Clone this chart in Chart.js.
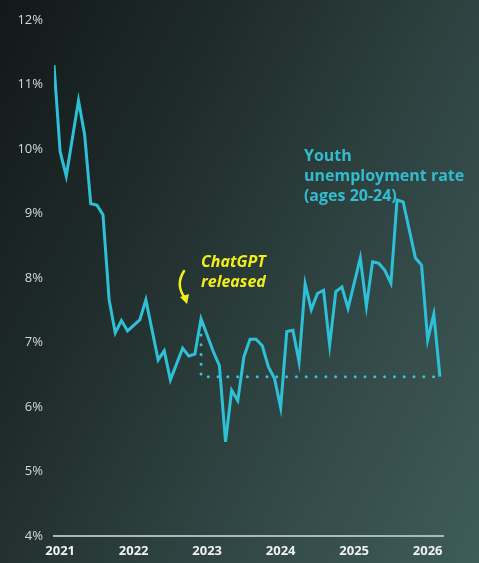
<!DOCTYPE html>
<html>
<head>
<meta charset="utf-8">
<script src="https://cdn.jsdelivr.net/npm/chart.js@4"></script>
<style>
  html, body {
    margin: 0;
    padding: 0;
    width: 479px;
    height: 563px;
    overflow: hidden;
    background: linear-gradient(118deg, #121918 0%, #1f2c2b 32%, #2f4442 62%, #3f5c5a 100%);
  }
  #wrap { width: 479px; height: 563px; }
</style>
</head>
<body>
<div id="wrap"><canvas id="youthChart"></canvas></div>
<script>
// month index (0 = Dec 2020) and youth (20-24) unemployment rate, %
const months = [0, 1, 2, 4, 5, 6, 7, 8, 9, 10, 11, 12, 14, 15, 17, 18, 19, 21, 22, 23,
    24, 26, 27, 28, 29, 30, 31, 32, 33, 34, 35, 36, 37, 38, 39, 40, 41, 42, 43, 44,
    45, 46, 47, 48, 50, 51, 52, 53, 54, 55, 56, 57, 59, 60, 61, 62, 63];
const rates = [11.30, 9.96, 9.58, 10.75, 10.22, 9.15, 9.13, 8.98, 7.66, 7.15, 7.34, 7.18, 7.35, 7.66, 6.73, 6.87, 6.42, 6.91, 6.79, 6.82,
    7.37, 6.86, 6.64, 5.46, 6.26, 6.10, 6.78, 7.05, 7.05, 6.95, 6.62, 6.44, 5.99, 7.17, 7.19, 6.70, 7.91, 7.51, 7.76, 7.81,
    6.96, 7.79, 7.86, 7.53, 8.31, 7.56, 8.25, 8.23, 8.12, 7.92, 9.21, 9.18, 8.31, 8.20, 7.04, 7.44, 6.47];

const yearTicks = [1, 13, 25, 37, 49, 61];
const yearLabels = ['2021', '2022', '2023', '2024', '2025', '2026'];
const yMin = 4;
const yMax = 12;

const releaseMonth = 24; // ChatGPT released
const lineColor = '#2ec0d6';

const series = months.map((m, i) => ({ x: m, y: rates[i] }));
const releaseRate = rates[months.indexOf(releaseMonth)];
const lastMonth = months[months.length - 1];
const lastRate = rates[rates.length - 1];

// dotted guide: down from the release month, then across to the latest reading
const guide = [
    { x: releaseMonth, y: releaseRate - 0.1 },
    { x: releaseMonth, y: lastRate },
    { x: lastMonth, y: lastRate },
];

const labelsPlugin = {
    id: 'labels',
    afterDatasetsDraw(chart) {
        const { ctx, scales: { x, y } } = chart;
        ctx.save();

        // series label
        ctx.fillStyle = '#33bccf';
        ctx.font = 'bold 16px "Open Sans"';
        ctx.textBaseline = 'alphabetic';
        ctx.textAlign = 'left';
        const sx = x.getPixelForValue(40.8);
        const sy = y.getPixelForValue(9.81);
        ['Youth', 'unemployment rate', '(ages 20-24)'].forEach((t, i) => {
            ctx.fillText(t, sx, sy + i * 20);
        });

        // release note
        ctx.fillStyle = '#f2ee1c';
        ctx.font = 'italic bold 16px "Open Sans"';
        const cx = x.getPixelForValue(releaseMonth);
        const cy = y.getPixelForValue(8.17);
        ctx.fillText('ChatGPT', cx, cy);
        ctx.fillText('released', cx, cy + 20);

        // curved arrow
        ctx.strokeStyle = '#f2ee1c';
        ctx.lineWidth = 2.5;
        ctx.lineCap = 'round';
        ctx.beginPath();
        ctx.moveTo(cx - 17, cy + 4);
        ctx.quadraticCurveTo(cx - 26, cy + 18, cx - 16, cy + 31);
        ctx.stroke();
        ctx.fillStyle = '#f2ee1c';
        ctx.beginPath();
        ctx.moveTo(cx - 21, cy + 30);
        ctx.lineTo(cx - 12, cy + 27);
        ctx.lineTo(cx - 14, cy + 37);
        ctx.closePath();
        ctx.fill();

        ctx.restore();
    }
};

const ctx = document.getElementById('youthChart').getContext('2d');

new Chart(ctx, {
    type: 'line',
    data: {
        datasets: [{
            label: 'Youth unemployment rate (ages 20-24)',
            data: series,
            borderColor: lineColor,
            borderWidth: 3,
            tension: 0,
            pointRadius: 0,
            fill: false,
        }, {
            label: 'guide',
            data: guide,
            borderColor: '#35c4d8',
            borderWidth: 3,
            borderDash: [0, 9.8],
            borderCapStyle: 'round',
            pointRadius: 0,
            fill: false,
        }],
    },
    options: {
        responsive: true,
        maintainAspectRatio: false,
        animation: false,
        layout: {
            padding: { top: 20, right: 36, left: 0, bottom: 0 },
        },
        plugins: {
            legend: { display: false },
            tooltip: { enabled: false },
        },
        scales: {
            x: {
                type: 'linear',
                min: 0,
                max: 63.5,
                grid: { display: false, drawTicks: false },
                border: { display: true, color: '#aab8b7', width: 2 },
                afterBuildTicks(axis) {
                    axis.ticks = yearTicks.map(v => ({ value: v }));
                },
                afterFit(axis) {
                    axis.height = 27;
                },
                ticks: {
                    autoSkip: false,
                    maxRotation: 0,
                    padding: 7,
                    color: '#eef2f2',
                    font: { family: '"Open Sans"', size: 13, weight: 'bold' },
                    callback: (v) => yearLabels[yearTicks.indexOf(v)],
                },
            },
            y: {
                min: yMin,
                max: yMax,
                grid: { display: false, drawTicks: false },
                border: { display: false },
                afterFit(axis) {
                    axis.width = 54;
                },
                ticks: {
                    stepSize: 1,
                    padding: 11,
                    color: '#d3d9d9',
                    font: { family: '"Open Sans"', size: 13 },
                    callback: (v) => v + '%',
                },
            },
        },
    },
    plugins: [labelsPlugin],
});
</script>
</body>
</html>
